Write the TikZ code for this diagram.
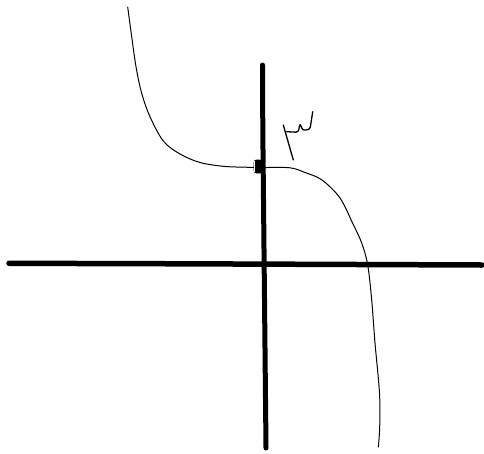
\documentclass[tikz,border=0pt]{standalone}
\begin{document}
\begin{tikzpicture}[x=1pt,y=-1pt,
  axisline/.style={line width=5.5pt,line cap=round},
  curveline/.style={line width=1pt,line join=round,line cap=round},
  penline/.style={line width=1.3pt,line join=round,line cap=round}]
\useasboundingbox (0,0) rectangle (484,453);
% axes
\coordinate (hl) at (9,263.3);
\coordinate (hm) at (185,263.8);
\coordinate (hr) at (482,265);
\coordinate (vt) at (262.5,65);
\coordinate (vb) at (266,448);
\draw[axisline] (hl) -- (hm) -- (hr);
\draw[axisline,line width=5pt] (vt) -- (262.8,130) -- (vb);
% curve
\draw[curveline] plot[smooth,tension=0.55] coordinates {
 (127.7,7) (131.7,36.7) (136,66.7) (141.7,93.3) (150,116.7) (163.3,141)
 (180,154) (200,162.5) (223.3,166.3) (245,167.2) (263,167.5) (290,167.8)
 (305,172.5) (322,180) (340,198) (353,224) (361.7,243) (367.7,265)
 (371.7,300) (375,343) (379.5,393) (379.7,427) (378.3,447)};
% point marker
\node[draw,fill=black,line width=0.8pt,inner sep=0pt,minimum width=8pt,minimum height=13pt,rounded corners=2.5pt] (pt) at (258,166.5) {};
\draw[white,line width=0.6pt] (254.5,161) -- (254.5,172);
% handwritten label
\draw[penline] (283.3,125) -- (293.3,160);
\draw[penline,rounded corners=2.5pt] (286.7,131.7) -- (298.3,132.3) -- (300,123.3) -- (302.7,130.5) -- (310,129.3) -- (312.7,111.7);
\end{tikzpicture}
\end{document}
